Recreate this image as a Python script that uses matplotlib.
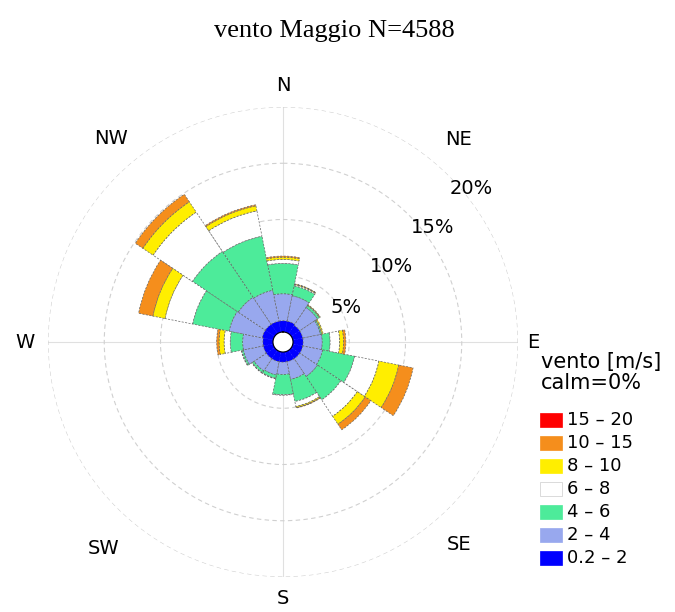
import numpy as np
import matplotlib
matplotlib.use("Agg")
import matplotlib.pyplot as plt
from matplotlib.patches import Rectangle

# 16 compass sectors, clockwise from north
directions = ["N", "NNE", "NE", "ENE", "E", "ESE", "SE", "SSE",
              "S", "SSW", "SW", "WSW", "W", "WNW", "NW", "NNW"]
direction_deg = [0.0, 22.5, 45.0, 67.5, 90.0, 112.5, 135.0, 157.5,
                 180.0, 202.5, 225.0, 247.5, 270.0, 292.5, 315.0, 337.5]

speed_classes = ["0.2 \u2013 2", "2 \u2013 4", "4 \u2013 6", "6 \u2013 8",
                 "8 \u2013 10", "10 \u2013 15", "15 \u2013 20"]
class_colors = ["#0000FF", "#98A8EE", "#4DEB9A", "#FFFFFF",
                "#FFEE00", "#F58E1C", "#FF0000"]

# frequency (%) of each speed class per direction
freq_02_2 = [1.0, 1.0, 0.9, 0.9, 0.9, 0.9, 0.9, 0.9, 0.9, 0.9, 0.9, 0.9, 0.9, 1.0, 1.0, 1.0]
freq_2_4 = [2.4, 2.3, 1.9, 1.6, 1.7, 1.8, 1.9, 1.6, 1.1, 1.2, 1.3, 1.8, 1.8, 3.0, 2.9, 2.8]
freq_4_6 = [2.7, 0.9, 0.2, 0.1, 0.7, 2.9, 2.5, 2.0, 1.8, 0.3, 0.2, 0.15, 1.1, 3.3, 4.9, 4.9]
freq_6_8 = [0.35, 0.1, 0.05, 0.05, 0.85, 2.2, 1.75, 0.45, 0.05, 0.05, 0.05, 0.05, 0.55, 2.5, 4.2, 2.3]
freq_8_10 = [0.2, 0.05, 0.05, 0.1, 0.35, 1.8, 0.85, 0.1, 0.0, 0.0, 0.0, 0.0, 0.45, 1.1, 1.1, 0.45]
freq_10_15 = [0.1, 0.03, 0.0, 0.0, 0.2, 1.3, 0.6, 0.05, 0.0, 0.0, 0.0, 0.0, 0.2, 1.3, 0.8, 0.1]
freq_15_20 = [0.0] * 16

freq_table = [freq_02_2, freq_2_4, freq_4_6, freq_6_8, freq_8_10, freq_10_15, freq_15_20]

ring_values = [5, 10, 15, 20]
ring_labels = ["5%", "10%", "15%", "20%"]
title = "vento Maggio N=4588"
legend_title = "vento [m/s]"
calm_text = "calm=0%"

W, H = 675, 612
fig = plt.figure(figsize=(W / 100, H / 100), dpi=100)
fig.patch.set_facecolor("white")

# polar axes: centre at (283, 342) px, radius 235 px
cx, cy, R = 283, 342, 235
ax = fig.add_axes([(cx - R) / W, (H - cy - R) / H, 2 * R / W, 2 * R / H],
                  projection="polar")
ax.set_theta_zero_location("N")
ax.set_theta_direction(-1)
ax.set_ylim(0, 20)
ax.set_rorigin(-0.89)
ax.set_axisbelow(True)
ax.spines["polar"].set_visible(False)

ax.set_rgrids(ring_values, labels=[""] * len(ring_values))
ax.set_thetagrids([0, 90, 180, 270], labels=[""] * 4)
ax.yaxis.grid(True, color="#d0d0d0", linestyle=(0, (4, 3)), linewidth=0.8)
ax.xaxis.grid(True, color="#e0e0e0", linestyle="-", linewidth=0.8)
ax.tick_params(length=0)

theta = np.radians(direction_deg)
width = 2 * np.pi / len(directions)
bottom = np.zeros(len(directions))
for values, color in zip(freq_table, class_colors):
    values = np.asarray(values, dtype=float)
    keep = values > 0
    if keep.any():
        edge = color if color == "#0000FF" else "#666666"
        ax.bar(theta[keep], values[keep], width=width, bottom=bottom[keep],
               color=color, edgecolor=edge, linewidth=0.5,
               linestyle=(0, (3, 2)), align="center", zorder=2)
    bottom += values

# compass labels
compass = [("N", 0, 21.95), ("NE", 41, 22.95), ("E", 90, 21.4), ("SE", 139, 23.0),
           ("S", 180, 21.9), ("SW", 221, 23.4), ("W", 270, 22.05), ("NW", 319.7, 22.8)]
for lab, ang, rr in compass:
    ax.text(np.radians(ang), rr, lab, ha="center", va="center",
            fontsize=14, family="DejaVu Sans", clip_on=False)

# ring labels
ring_pos = [(61.6, 5.47), (55.3, 10.86), (52.5, 15.87), (50.7, 20.68)]
for lab, (ang, rr) in zip(ring_labels, ring_pos):
    ax.text(np.radians(ang), rr, lab, ha="center", va="center",
            fontsize=14, family="DejaVu Sans", clip_on=False, zorder=5)

# title
fig.text(334 / W, 1 - 37.5 / H, title, ha="center", va="baseline",
         fontsize=19, family="Liberation Serif")

# legend
fig.text(541 / W, 1 - 362 / H, legend_title, ha="left", va="center",
         fontsize=15, family="DejaVu Sans")
fig.text(541 / W, 1 - 383 / H, calm_text, ha="left", va="center",
         fontsize=15, family="DejaVu Sans")
row0, step = 420.0, 23.0
for i, (lab, color) in enumerate(zip(speed_classes[::-1], class_colors[::-1])):
    yc = row0 + i * step
    fig.add_artist(Rectangle((540 / W, 1 - (yc + 6.7) / H), 21.7 / W, 13.4 / H,
                             transform=fig.transFigure, facecolor=color,
                             edgecolor="#cccccc" if color == "#FFFFFF" else color,
                             linewidth=0.5))
    fig.text(567 / W, 1 - yc / H, lab, ha="left", va="center",
             fontsize=13, family="DejaVu Sans")

fig.savefig("out.png", dpi=100)
